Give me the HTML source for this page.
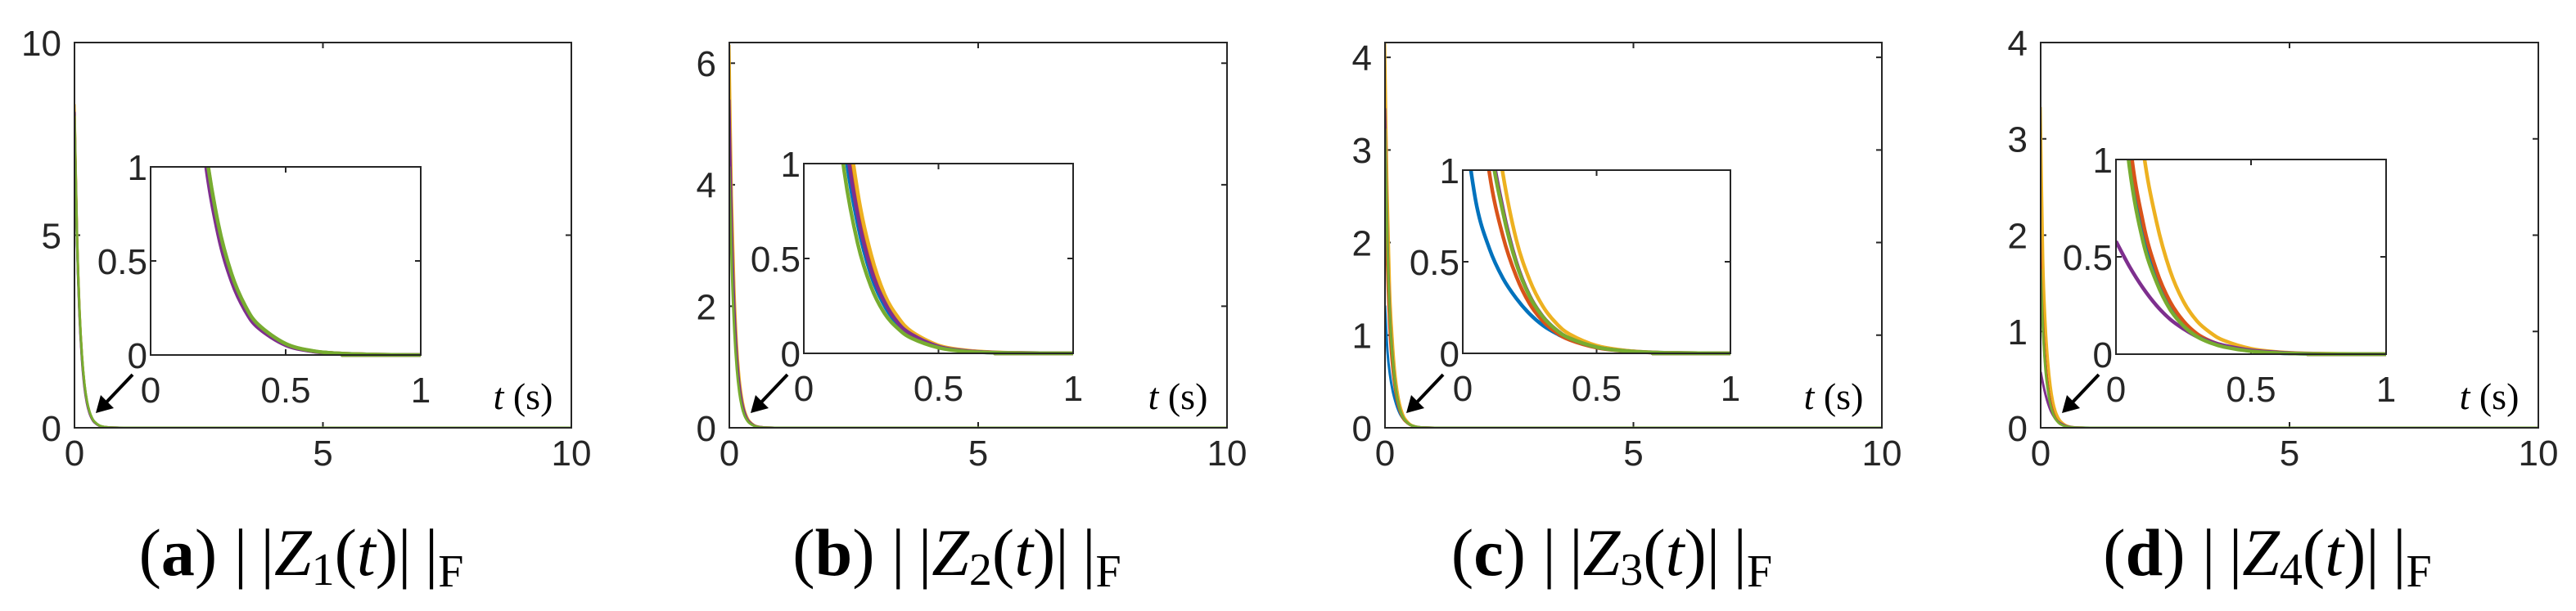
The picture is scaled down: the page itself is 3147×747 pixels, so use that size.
<!DOCTYPE html>
<html><head><meta charset="utf-8">
<style>
html,body{margin:0;padding:0;background:#fff;}
svg{display:block;}
text{font-family:"Liberation Sans",sans-serif;fill:#262626;}
.cap{font-family:"Liberation Serif",serif;fill:#000;}
</style></head>
<body>
<svg id="chart" width="3147" height="747" viewBox="0 0 3147 747" xmlns="http://www.w3.org/2000/svg"></svg>
<script>
const times = [0,0.05,0.1,0.15,0.2,0.25,0.3,0.35,0.4,0.5,0.6,0.7,0.8,1.0,1.5,10];
const seriesNames = ['blue','red','yellow','purple','green'];
const colors = ['#0072BD','#D95319','#EDB120','#7E2F8E','#77AC30'];
const xTicksMain = [0,5,10];
const xTicksInset = [0,0.5,1];
const yTicksInset = [0,0.5,1];
const captions = ['a','b','c','d'];
const captionSub = ['1','2','3','4'];
const yTicksA = [0,5,10];
const yTicksB = [0,2,4,6];
const yTicksC = [0,1,2,3,4];
const yTicksD = [0,1,2,3,4];
const yMaxes = [10,6.34,4.16,4];
const aBlue   = [8.25,5.0,3.03,1.84,1.11,0.67,0.41,0.25,0.15,0.055,0.02,0.008,0.003,0,0,0];
const aRed    = [8.3,5.03,3.05,1.85,1.12,0.68,0.41,0.25,0.15,0.056,0.02,0.008,0.003,0,0,0];
const aYellow = [8.4,5.1,3.1,1.88,1.14,0.69,0.42,0.255,0.155,0.058,0.021,0.008,0.003,0,0,0];
const aPurple = [8.2,4.9,2.95,1.78,1.06,0.64,0.39,0.235,0.142,0.052,0.019,0.007,0.002,0,0,0];
const aGreen  = [8.1,4.98,3.05,1.87,1.14,0.70,0.43,0.262,0.16,0.06,0.022,0.008,0.003,0,0,0];
const bBlue   = [5.0,3.03,1.84,1.11,0.68,0.41,0.25,0.15,0.09,0.034,0.012,0.004,0.002,0,0,0];
const bRed    = [5.9,3.58,2.17,1.31,0.8,0.48,0.29,0.18,0.11,0.04,0.015,0.005,0.002,0,0,0];
const bYellow = [6.3,3.82,2.32,1.4,0.85,0.52,0.31,0.19,0.115,0.042,0.016,0.006,0.002,0,0,0];
const bPurple = [5.4,3.27,1.99,1.2,0.73,0.44,0.27,0.16,0.1,0.036,0.013,0.005,0.002,0,0,0];
const bGreen  = [4.3,2.6,1.58,0.96,0.58,0.35,0.21,0.13,0.08,0.03,0.01,0.004,0.001,0,0,0];
const cBlue   = [1.32,0.82,0.57,0.41,0.3,0.215,0.152,0.108,0.075,0.035,0.015,0.006,0.002,0,0,0];
const cRed    = [2.6,1.6,0.98,0.64,0.42,0.27,0.175,0.113,0.073,0.031,0.013,0.005,0.002,0,0,0];
const cYellow = [4.16,2.55,1.5,0.98,0.62,0.4,0.255,0.163,0.104,0.042,0.017,0.006,0.002,0,0,0];
const cPurple = [3.45,2.05,1.22,0.79,0.5,0.315,0.2,0.128,0.082,0.034,0.014,0.005,0.002,0,0,0];
const cGreen  = [3.23,1.95,1.18,0.77,0.49,0.31,0.198,0.127,0.082,0.034,0.014,0.005,0.002,0,0,0];
const dBlue   = [1.8,1.0,0.62,0.39,0.245,0.155,0.097,0.062,0.04,0.016,0.006,0.002,0.001,0,0,0];
const dRed    = [2.1,1.12,0.68,0.43,0.27,0.17,0.105,0.067,0.043,0.017,0.007,0.003,0.001,0,0,0];
const dYellow = [3.33,1.75,1.06,0.68,0.43,0.27,0.17,0.11,0.07,0.028,0.011,0.004,0.002,0,0,0];
const dPurple = [0.58,0.45,0.34,0.25,0.18,0.13,0.09,0.065,0.045,0.02,0.009,0.003,0.001,0,0,0];
const dGreen  = [1.65,0.96,0.58,0.37,0.23,0.145,0.09,0.058,0.037,0.015,0.006,0.002,0.001,0,0,0];

const panelSeries = [
  [aBlue,aRed,aYellow,aPurple,aGreen],
  [bBlue,bRed,bYellow,bPurple,bGreen],
  [cBlue,cRed,cYellow,cPurple,cGreen],
  [dBlue,dRed,dYellow,dPurple,dGreen]
];
const panelYTicks = [yTicksA,yTicksB,yTicksC,yTicksD];
const mainBoxes = [[91,52,698,523],[891,52,1499,523],[1692,52,2299,523],[2493,52,3101,523]];
const insetBoxes = [[184,204,514,434],[982,200,1311,432],[1787,208,2114,432],[2585,195,2915,433]];
const capX = [368,1169,1969,2770];

const NS='http://www.w3.org/2000/svg';
const svg=document.getElementById('chart');
function mk(tag,attrs,parent){const e=document.createElementNS(NS,tag);for(const k in attrs)e.setAttribute(k,attrs[k]);(parent||svg).appendChild(e);return e;}

function smoothPath(pts){
  let d='M'+pts[0][0].toFixed(2)+','+pts[0][1].toFixed(2);
  for(let i=0;i<pts.length-1;i++){
    const p0=pts[Math.max(0,i-1)],p1=pts[i],p2=pts[i+1],p3=pts[Math.min(pts.length-1,i+2)];
    const c1=[p1[0]+(p2[0]-p0[0])/6,p1[1]+(p2[1]-p0[1])/6];
    const c2=[p2[0]-(p3[0]-p1[0])/6,p2[1]-(p3[1]-p1[1])/6];
    d+=' C'+c1[0].toFixed(2)+','+c1[1].toFixed(2)+' '+c2[0].toFixed(2)+','+c2[1].toFixed(2)+' '+p2[0].toFixed(2)+','+p2[1].toFixed(2);
  }
  return d;
}

function drawAxes(g,box,xmin,xmax,ymin,ymax,xt,yt,fs,labelGapX,labelGapY,name){
  const [L,T,R,B]=box;
  const sx=v=>L+(v-xmin)/(xmax-xmin)*(R-L);
  const sy=v=>B-(v-ymin)/(ymax-ymin)*(B-T);
  const tl=7;
  xt.forEach(v=>{
    const x=sx(v);
    const tk=mk('path',{d:`M${x},${B}V${B-tl}M${x},${T}V${T+tl}`,stroke:'#262626','stroke-width':2,fill:'none'},g);
    
    
    const t=mk('text',{x:x,y:B+labelGapX,'font-size':fs,'text-anchor':'middle'},g);
    
    
    t.textContent=String(v);
  });
  yt.forEach(v=>{
    const y=sy(v);
    const tk=mk('path',{d:`M${L},${y}H${L+tl}M${R},${y}H${R-tl}`,stroke:'#262626','stroke-width':2,fill:'none'},g);
    
    
    const t=mk('text',{x:L-labelGapY,y:y+fs*0.36,'font-size':fs,'text-anchor':'end'},g);
    
    
    t.textContent=String(v);
  });
  return {sx,sy};
}

for(let p=0;p<4;p++){
  const g=mk('g',{});
  
  
  const [L,T,R,B]=mainBoxes[p];
  const ymax=yMaxes[p];
  const clipId='clipm'+p;
  const cp=mk('clipPath',{id:clipId},g);
  mk('rect',{x:L,y:T-2,width:R-L,height:B-T+2},cp);
  const ax=drawAxes(g,mainBoxes[p],0,10,0,ymax,xTicksMain,panelYTicks[p],44,46,16,'main-'+captions[p]);
  const lg=mk('g',{'clip-path':`url(#${clipId})`},g);
  panelSeries[p].forEach((vals,i)=>{
    const pts=times.map((t,k)=>[ax.sx(t),ax.sy(vals[k])]);
    const pa=mk('path',{d:smoothPath(pts),stroke:colors[i],'stroke-width':3,fill:'none'},lg);
    
    
  });
  const fr=mk('rect',{x:L,y:T,width:R-L,height:B-T,fill:'none',stroke:'#262626','stroke-width':2},g);
  
  

  const ib=insetBoxes[p];
  const ig=mk('g',{},g);
  
  
  mk('rect',{x:ib[0],y:ib[1],width:ib[2]-ib[0],height:ib[3]-ib[1],fill:'#fff'},ig);
  const iclip='clipi'+p;
  const icp=mk('clipPath',{id:iclip},ig);
  mk('rect',{x:ib[0],y:ib[1],width:ib[2]-ib[0],height:ib[3]-ib[1]+3},icp);
  const iax=drawAxes(ig,ib,0,1,0,1,xTicksInset,yTicksInset,44,58,4,'inset-'+captions[p]);
  const ilg=mk('g',{'clip-path':`url(#${iclip})`},ig);
  panelSeries[p].forEach((vals,i)=>{
    const pts=times.map((t,k)=>[iax.sx(t),iax.sy(vals[k])]);
    const pa=mk('path',{d:smoothPath(pts),stroke:colors[i],'stroke-width':4.5,fill:'none'},ilg);
    
    
  });
  const ifr=mk('rect',{x:ib[0],y:ib[1],width:ib[2]-ib[0],height:ib[3]-ib[1],fill:'none',stroke:'#262626','stroke-width':2},ig);
  
  
  const tl=mk('text',{x:L+548,y:500,'font-size':46,'text-anchor':'middle',class:'cap'},g);
  
  
  tl.innerHTML='<tspan font-style="italic">t</tspan> (s)';

  const ar=mk('g',{},g);
  
  
  const x1=L+71,y1=458,x2=L+26,y2=505;
  mk('line',{x1:x1,y1:y1,x2:x2+8,y2:y2-8,stroke:'#000','stroke-width':4},ar);
  mk('polygon',{points:`${x2},${y2} ${x2+6},${y2-22} ${x2+22},${y2-6}`,fill:'#000'},ar);

  const c=mk('text',{x:capX[p],y:703,'font-size':82,'text-anchor':'middle',class:'cap'},g);
  
  
  c.innerHTML='(<tspan font-weight="bold">'+captions[p]+'</tspan>) |\u2009|<tspan font-style="italic">Z</tspan><tspan font-size="56" dy="12">'+captionSub[p]+'</tspan><tspan dy="-12">(</tspan><tspan font-style="italic">t</tspan>)|\u2009|<tspan font-size="56" dy="14">F</tspan>';
}
</script>
</body></html>
